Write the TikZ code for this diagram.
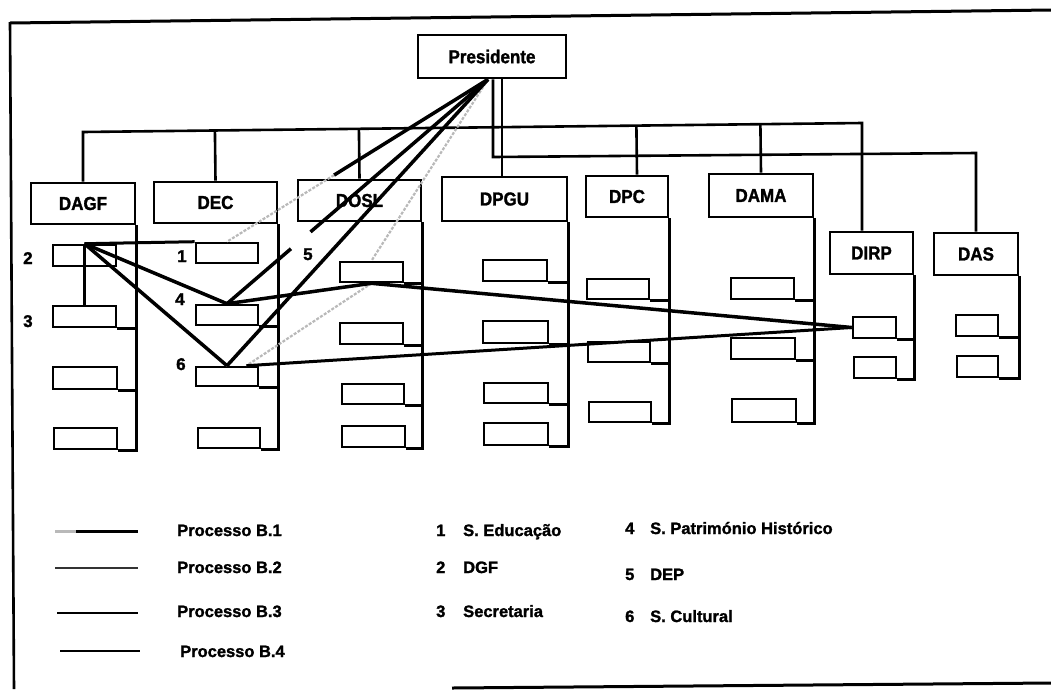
\documentclass[tikz,border=0pt]{standalone}
\usepackage{graphicx}
\usepackage{fontspec}
\setmainfont{Liberation Sans}[BoldFeatures={FakeBold=1.5}]
\usetikzlibrary{calc}

% department header box: name, x1, y1, x2, y2, text
\newcommand\deptbox[6]{\node[hdr, minimum width={#4pt-#2pt}, minimum height={#5pt-#3pt}] (#1) at ({(#2+#4)/2},{(#3+#5)/2}) {\scalebox{1}[1.1]{#6}};}
% service box inside a department: name, x1, y1, x2, y2
\newcommand\slot[5]{\node[sub, minimum width={#4pt-#2pt}, minimum height={#5pt-#3pt}] (#1) at ({(#2+#4)/2},{(#3+#5)/2}) {};}
% link a service box to the spine of its department
\newcommand\tospine[2]{\draw[struct] (#1.south east) -- (#1.south east -| #2.south east);}
% spine from the department box down to its last service
\newcommand\spine[2]{\draw[struct] (#1.south east) -| (#2.south east);}

\begin{document}
\begin{tikzpicture}[x=1pt,y=-1pt,
  struct/.style={line width=2.6pt},
  hdr/.style={draw, line width=2.7pt, inner sep=0pt, font=\fontsize{17}{17}\selectfont\bfseries},
  sub/.style={draw, line width=2.6pt, inner sep=0pt},
  pblack/.style={line width=3.5pt, black},
  pthin/.style={line width=3pt, black},
  pgray/.style={line width=2.2pt, gray!55, dash pattern=on 3pt off 1.5pt},
  lbl/.style={anchor=base west, inner sep=0pt, font=\fontsize{16.5}{16.5}\selectfont\bfseries},
  num/.style={anchor=base west, inner sep=0pt, font=\fontsize{17}{17}\selectfont\bfseries},
]
\useasboundingbox (0,0) rectangle (1051,689);

% frame
\draw[line width=3pt] (10,23) -- (1051,10);
\draw[line width=2.6pt] (10,22) -- (14,689);
\draw[line width=3pt] (452,688) -- (1051,683);

% departments
\deptbox{pres}{418}{35}{566}{78}{Presidente}
\deptbox{dagf}{31}{183}{135}{224}{DAGF}
\deptbox{dec}{154}{182}{277}{223}{DEC}
\deptbox{dosl}{298}{180}{421}{221}{DOSL}
\deptbox{dpgu}{442}{177}{567}{221}{DPGU}
\deptbox{dpc}{586}{176}{668}{217}{DPC}
\deptbox{dama}{709}{174}{813}{217}{DAMA}
\deptbox{dirp}{830}{232}{913}{274}{DIRP}
\deptbox{das}{934}{233}{1018}{275}{DAS}

% hierarchy buses
\coordinate (h1a) at (83,132);
\coordinate (h1b) at (862,123);
\coordinate (h2a) at (493,157);
\coordinate (h2b) at (976,153);
\draw[struct] (dagf.north) -- (h1a) -- (h1b) -- (h1b |- dirp.north);
\draw[struct] (dec.north) -- ($(h1a)!(dec.north)!(h1b)$);
\draw[struct] (dosl.north) -- ($(h1a)!(dosl.north)!(h1b)$);
\draw[struct] ([xshift=10pt]dpc.north) -- ($(h1a)!([xshift=10pt]dpc.north)!(h1b)$);
\draw[struct] (dama.north) -- ($(h1a)!(dama.north)!(h1b)$);
\draw[struct] ([xshift=1pt]pres.south) -- (h2a) -- (h2b) -- (das.north);
\draw[struct] ([xshift=10pt]pres.south) -- ([xshift=10pt]pres.south |- dpgu.north);

% services
\slot{dagfa}{53}{245}{116}{266}
\slot{dagfb}{53}{306}{116}{327}
\slot{dagfc}{53}{367}{117}{389}
\slot{dagfd}{54}{428}{117}{449}
\slot{deca}{196}{243}{258}{263}
\slot{decb}{196}{305}{258}{325}
\slot{decc}{196}{367}{258}{386}
\slot{decd}{198}{428}{260}{448}
\slot{dosla}{340}{262}{403}{282}
\slot{doslb}{340}{323}{403}{344}
\slot{doslc}{342}{384}{404}{404}
\slot{dosld}{342}{426}{405}{447}
\slot{dpgua}{483}{260}{547}{281}
\slot{dpgub}{483}{321}{548}{343}
\slot{dpguc}{484}{383}{548}{403}
\slot{dpgud}{484}{423}{548}{445}
\slot{dpca}{587}{279}{649}{299}
\slot{dpcb}{588}{342}{650}{362}
\slot{dpcc}{589}{402}{651}{422}
\slot{damaa}{731}{278}{794}{299}
\slot{damab}{731}{338}{795}{359}
\slot{damac}{732}{399}{796}{422}
\slot{dirpa}{853}{317}{896}{338}
\slot{dirpb}{854}{357}{896}{378}
\slot{dasa}{956}{315}{998}{336}
\slot{dasb}{957}{356}{998}{377}

% spines
\draw[struct] (dagfa.north) -- (dagfa.north |- dagfb.north);
\tospine{dagfb}{dagf} \tospine{dagfc}{dagf} \spine{dagfd}{dagf}
\tospine{decb}{dec} \tospine{decc}{dec} \spine{decd}{dec}
\tospine{dosla}{dosl} \tospine{doslb}{dosl} \tospine{doslc}{dosl} \spine{dosld}{dosl}
\tospine{dpgua}{dpgu} \tospine{dpgub}{dpgu} \tospine{dpguc}{dpgu} \spine{dpgud}{dpgu}
\tospine{dpca}{dpc} \tospine{dpcb}{dpc} \spine{dpcc}{dpc}
\tospine{damaa}{dama} \tospine{damab}{dama} \spine{damac}{dama}
\tospine{dirpa}{dirp} \spine{dirpb}{dirp}
\tospine{dasa}{das} \spine{dasb}{das}

% service numbers
\node[num] (k2) at (23,264) {2};
\node[num] (k3) at (23,327) {3};
\node[num] (k1) at (177,262) {1};
\node[num] (k4) at (175,305) {4};
\node[num] (k6) at (176,370) {6};
\node[num] (k5) at (303,260) {5};

% process flows
\coordinate (apx) at ([xshift=-4pt]pres.south);
\coordinate (c6) at ($(decc.north)!0.6!(decc.north east)$);
\draw[pgray] (apx) -- (dosla.north);
\draw[pgray] (dosla.south) -- (c6);
\draw[pgray] (decc.north) -- (dagfa.north);

\draw[pblack] (apx) -- ($(apx)!0.59!(deca.north)$) coordinate (m1);
\draw[pgray] (m1) -- (deca.north);
\draw[pblack] (apx) -- ($(apx)!0.68!(decb.north)$);
\draw[pblack] ($(apx)!0.755!(decb.north)$) -- (decb.north);
\draw[pblack] (apx) -- (decc.north);

\draw[pthin] (dagfa.north) -- (deca.north west);
\draw[pblack] (dagfa.north) -- (decb.north);
\draw[pblack] (dagfa.north) -- (decc.north);
\draw[pblack] (decb.north) -- (dosla.south) -- (dirpa.west);
\draw[pthin] (dirpa.west) -- (c6);

% legend: line samples
\coordinate (s1a) at (55,531);  \coordinate (s1m) at (76,531); \coordinate (s1b) at (138,531);
\coordinate (s2a) at (55,568);  \coordinate (s2b) at (138,568);
\coordinate (s3a) at (57,613);  \coordinate (s3b) at (138,613);
\coordinate (s4a) at (60,651);  \coordinate (s4b) at (140,651);
\draw[line width=3pt, gray!55] (s1a) -- (s1m);
\draw[line width=3pt] (s1m) -- (s1b);
\draw[line width=2.8pt, gray!40!black] (s2a) -- (s2b);
\draw[line width=2.8pt] (s3a) -- (s3b);
\draw[line width=2.6pt] (s4a) -- (s4b);

\node[lbl] (lg1) at (177,536) {Processo B.1};
\node[lbl] (lg2) at (177,573) {Processo B.2};
\node[lbl] (lg3) at (177,617) {Processo B.3};
\node[lbl] (lg4) at (180,657) {Processo B.4};

% legend: services
\node[lbl] (ln1) at (436,536) {1};
\node[lbl] (lt1) at (463,536) {S. Educação};
\node[lbl] (ln2) at (436,573) {2};
\node[lbl] (lt2) at (463,573) {DGF};
\node[lbl] (ln3) at (436,617) {3};
\node[lbl] (lt3) at (463,617) {Secretaria};
\node[lbl] (ln4) at (625,534) {4};
\node[lbl] (lt4) at (650,534) {S. Património Histórico};
\node[lbl] (ln5) at (625,580) {5};
\node[lbl] (lt5) at (650,580) {DEP};
\node[lbl] (ln6) at (625,622) {6};
\node[lbl] (lt6) at (650,622) {S. Cultural};
\end{tikzpicture}
\end{document}
